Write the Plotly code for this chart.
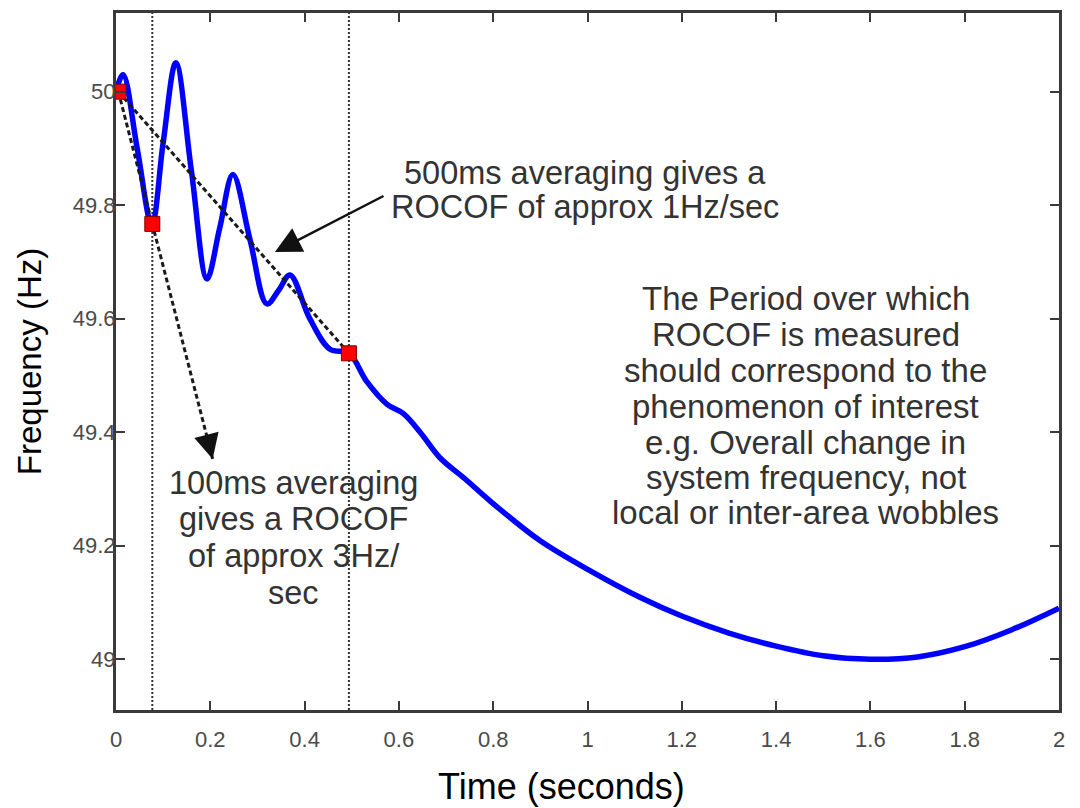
import plotly.graph_objects as go

# Frequency trace following a loss of infeed (time in s, frequency in Hz)
time_s = [0.0, 0.015, 0.045, 0.076, 0.10, 0.127, 0.16, 0.193, 0.22, 0.248,
          0.284, 0.320, 0.345, 0.369, 0.411, 0.454, 0.494, 0.532, 0.575,
          0.609, 0.645, 0.687, 0.74, 0.793, 0.899, 1.005, 1.111, 1.2, 1.3,
          1.4, 1.5, 1.6, 1.7, 1.8, 1.9, 2.0]
freq_hz = [50.00, 50.03, 49.90, 49.765, 49.91, 50.051, 49.86, 49.670, 49.76,
           49.854, 49.74, 49.626, 49.65, 49.677, 49.60, 49.546, 49.539,
           49.489, 49.449, 49.433, 49.40, 49.355, 49.318, 49.279, 49.209,
           49.156, 49.109, 49.076, 49.046, 49.023, 49.006, 49.0, 49.004,
           49.022, 49.052, 49.09]

# ROCOF measurement instants: start, +100 ms window end, +500 ms window end
meas_t = [0.005, 0.077, 0.494]
meas_f = [50.0, 49.767, 49.539]

x_ticks = [0, 0.2, 0.4, 0.6, 0.8, 1.0, 1.2, 1.4, 1.6, 1.8, 2.0]
x_tick_labels = ["0", "0.2", "0.4", "0.6", "0.8", "1", "1.2", "1.4", "1.6", "1.8", "2"]
y_ticks = [49.0, 49.2, 49.4, 49.6, 49.8, 50.0]
y_tick_labels = ["49", "49.2", "49.4", "49.6", "49.8", "50"]

FONT = "Liberation Sans, Arial, sans-serif"
TEXT_COL = "#333333"

fig = go.Figure()

# dotted markers of the window ends
for t in meas_t[1:]:
    fig.add_vline(x=t, layer="below",
                  line=dict(color="#333333", width=2, dash="2px,2px"))

fig.add_trace(go.Scatter(x=time_s, y=freq_hz, mode="lines",
                         line=dict(color="#0000ff", width=5.5, shape="spline", smoothing=1.0),
                         hoverinfo="skip"))

# 500 ms chord
fig.add_trace(go.Scatter(x=[meas_t[0], meas_t[2]], y=[meas_f[0], meas_f[2]], mode="lines",
                         line=dict(color="#1a1a1a", width=3, dash="5px,3px")))

# 100 ms chord, extended past the window end to the arrow
slope_100 = (meas_f[1] - meas_f[0]) / (meas_t[1] - meas_t[0])
tip_t = 0.205
tip_f = meas_f[0] + slope_100 * (tip_t - meas_t[0])
fig.add_trace(go.Scatter(x=[meas_t[0], meas_t[1], tip_t], y=[meas_f[0], meas_f[1], tip_f],
                         mode="lines", line=dict(color="#1a1a1a", width=3, dash="5px,3px")))
fig.add_annotation(x=tip_t, y=tip_f, ax=tip_t - 0.012, ay=tip_f - slope_100 * 0.012,
                   xref="x", yref="y", axref="x", ayref="y", text="",
                   showarrow=True, arrowhead=2, arrowsize=2.0, arrowwidth=2.5,
                   arrowcolor="#111111")

fig.add_trace(go.Scatter(x=meas_t, y=meas_f, mode="markers",
                         marker=dict(symbol="square", size=15, color="#ff0000",
                                     line=dict(color="#7a0000", width=1))))

# 500 ms callout arrow
fig.add_annotation(x=0.337, y=49.7175, ax=0.5705, ay=49.8175,
                   xref="x", yref="y", axref="x", ayref="y", text="",
                   showarrow=True, arrowhead=2, arrowsize=2.1, arrowwidth=2.5,
                   arrowcolor="#111111")


def add_lines(lines, x, ys, size=32.5):
    for txt, y in zip(lines, ys):
        fig.add_annotation(x=x, y=y, xref="x", yref="y", text=txt, showarrow=False,
                           xanchor="center", yanchor="middle",
                           font=dict(family=FONT, size=size, color=TEXT_COL))


add_lines(["500ms averaging gives a", "ROCOF of approx 1Hz/sec"], 0.995, [49.857, 49.796])
add_lines(["100ms averaging", "gives a ROCOF", "of approx 3Hz/", "sec"], 0.3775,
          [49.3105, 49.2474, 49.182, 49.1175])
add_lines(["The Period over which", "ROCOF is measured", "should correspond to the",
           "phenomenon of interest", "e.g. Overall change in",
           "system frequency, not", "local or inter-area wobbles"], 1.463,
          [49.635, 49.572, 49.509, 49.446, 49.382, 49.321, 49.258], size=33)

# x-axis title, centred under the labelled span
fig.add_annotation(x=0.472, y=-0.11, xref="paper", yref="paper", text="Time (seconds)",
                   showarrow=False, xanchor="center", yanchor="middle",
                   font=dict(family=FONT, size=36, color="black"))

axis_common = dict(showline=True, linecolor="#3a3a3a", linewidth=3, mirror="ticks",
                   ticks="inside", ticklen=9, tickwidth=1.5, tickcolor="#3a3a3a",
                   showgrid=False, zeroline=False,
                   tickfont=dict(family=FONT, size=22, color="#4a4a4a"))

fig.update_layout(
    width=1080, height=808,
    margin=dict(l=116, r=21, t=10, b=98),
    paper_bgcolor="white", plot_bgcolor="white",
    showlegend=False,
    xaxis=dict(range=[0, 2], tickvals=x_ticks, ticktext=x_tick_labels,
               ticklabelstandoff=8, **axis_common),
    yaxis=dict(range=[48.9105, 50.1386], tickvals=y_ticks, ticktext=y_tick_labels,
               ticklabelstandoff=-7,
               title=dict(text="Frequency (Hz)", standoff=22,
                          font=dict(family=FONT, size=33, color="black")),
               **axis_common),
)

fig.write_html("out.html")
